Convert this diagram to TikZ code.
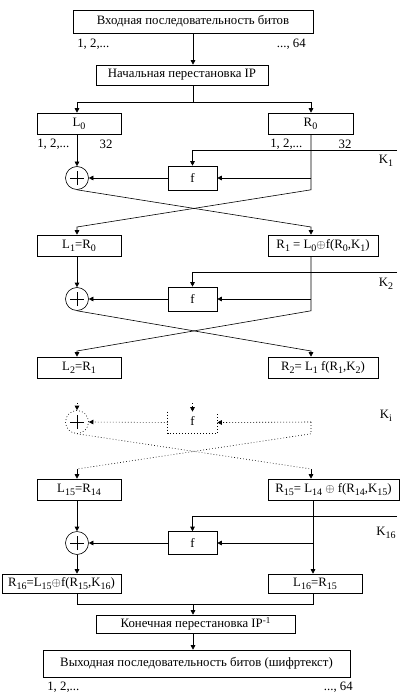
\documentclass[tikz,border=0pt]{standalone}
\usepackage{fontspec}
\setmainfont{Liberation Serif}
\usetikzlibrary{arrows.meta}
\newcommand{\sbx}[1]{\raisebox{-2.8pt}{\fontsize{10}{10}\selectfont #1}}
\newcommand{\spx}[1]{\raisebox{4.5pt}{\fontsize{9}{9}\selectfont #1}}
\begin{document}
\begin{tikzpicture}[x=1pt,y=-1pt, line width=0.6pt,
  font=\fontsize{12.8}{14}\selectfont,
  box/.style={draw, inner sep=0pt},
  arr/.style={-{Triangle[length=4.5pt,width=4.5pt]}},
  dots/.style={dash pattern=on 0.8pt off 2.2pt},
  xor/.style={draw, circle, minimum size=23pt, inner sep=0pt,
    path picture={\draw[solid] (path picture bounding box.center) ++(-7pt,0) -- ++(14pt,0);
                  \draw[solid] (path picture bounding box.center) ++(0,-7pt) -- ++(0,14pt);}},
  lbl/.style={inner sep=0pt}]
\useasboundingbox (0,0) rectangle (402,695);
% column coordinates
\coordinate (cl) at (77,0);
\coordinate (cr) at (311,0);
\coordinate (cr2) at (313,0);
\coordinate (cm) at (193,0);

% top
\node[box, minimum width=240pt, minimum height=23pt] (in) at (193,21.5) {Входная последовательность битов};
\node[lbl, anchor=west] (n1) at (77,44) {1, 2,...};
\node[lbl, anchor=east] (n2) at (306,44) {..., 64};
\node[box, minimum width=172pt, minimum height=20pt] (ip) at (182,75) {Начальная перестановка IP};
\draw[arr] (in.south) -- (in.south |- ip.north);
\coordinate (sp) at (193,102);
\draw (ip.south -| sp) -- (sp);

% round 1
\node[box, minimum width=84pt, minimum height=21pt] (L0) at (79,123.5) {L\sbx{0}};
\node[box, minimum width=85pt, minimum height=21pt] (R0) at (310.5,123.5) {R\sbx{0}};
\draw[arr] (sp) -| (L0.north -| cl);
\draw[arr] (sp) -| (R0.north -| cr);
\node[lbl, anchor=west] (a1) at (37,144) {1, 2,...};
\node[lbl] (a2) at (106,144) {32};
\node[lbl, anchor=west] (b1) at (270,144) {1, 2,...};
\node[lbl] (b2) at (345,144) {32};
\node[xor] (c1) at (77,178) {};
\node[box, minimum width=49pt, minimum height=24pt] (f1) at (192.5,178) {f};
\coordinate (k1) at (397,150);
\node[lbl] (K1) at (386,161) {K\sbx{1}};
\draw[arr] (L0.south -| cl) -- (c1.north);
\draw[arr] (k1) -| (f1.north);
\draw[arr] (c1 -| cr) -- (f1.east);
\draw[arr] (f1.west) -- (c1.east);
\node[box, minimum width=84pt, minimum height=21pt] (L1) at (79,245.5) {L\sbx{1}=R\sbx{0}};
\node[box, minimum width=110pt, minimum height=21pt] (R1) at (323,245.5) {R\sbx{1} = L\sbx{0}$\oplus$f(R\sbx{0},K\sbx{1})};
\coordinate (x1l) at (77,227);
\coordinate (x1r) at (311,227);
\draw[arr] (c1.south) -- (x1r) -- (R1.north -| x1r);
\draw[arr] (R0.south -| cr) -- (cr |- c1.south) -- (x1l) -- (L1.north -| x1l);

% round 2
\node[xor] (c2) at (77,299) {};
\node[box, minimum width=49pt, minimum height=24pt] (f2) at (192.5,299) {f};
\coordinate (k2) at (397,272);
\node[lbl] (K2) at (386,284) {K\sbx{2}};
\draw[arr] (L1.south -| cl) -- (c2.north);
\draw[arr] (k2) -| (f2.north);
\draw[arr] (c2 -| cr) -- (f2.east);
\draw[arr] (f2.west) -- (c2.east);
\node[box, minimum width=84pt, minimum height=21pt] (L2) at (79,367.5) {L\sbx{2}=R\sbx{1}};
\node[box, minimum width=110pt, minimum height=21pt] (R2) at (323,367.5) {R\sbx{2}= L\sbx{1} f(R\sbx{1},K\sbx{2})};
\coordinate (x2l) at (77,351);
\coordinate (x2r) at (311,351);
\draw[arr] (c2.south) -- (x2r) -- (R2.north -| x2r);
\draw[arr] (R1.south -| cr) -- (cr |- c2.south) -- (x2l) -- (L2.north -| x2l);

% dotted round
\node[xor, dots] (ci) at (77,422) {};
\node[inner sep=0pt, minimum width=49pt, minimum height=21pt] (fi) at (192.5,422.5) {\raisebox{4pt}{f}};
\node[lbl] (Ki) at (386,416) {K\sbx{i}};
\coordinate (ti) at (77,403);
\coordinate (tf) at (192.5,403);
\draw[arr, dots] (ti) -- (ci.north);
\draw[arr, dots] (tf) -- (fi.north);
\draw[dots] (fi.north west) -- (fi.south west) -- (fi.south east) -- (fi.north east);
\coordinate (ri) at (311,422);
\draw[arr, dots] (ri) -- (fi.east);
\draw[arr, dots] (fi.west) -- (ci.east);
\node[box, minimum width=84pt, minimum height=21pt] (L15) at (79,489.5) {L\sbx{15}=R\sbx{14}};
\node[box, minimum width=131pt, minimum height=21pt] (R15) at (333.5,489.5) {R\sbx{15}= L\sbx{14} $\oplus$ f(R\sbx{14},K\sbx{15})};
\coordinate (xil) at (77,469);
\coordinate (xir) at (311,469);
\draw[dots] (ri) -- (cr |- ci.south) -- (xil);
\draw[arr] (xil) -- (L15.north -| xil);
\draw[dots] (ci.south) -- (xir);
\draw[arr] (xir) -- (R15.north -| xir);

% round 16
\node[xor] (c16) at (77,543) {};
\node[box, minimum width=49pt, minimum height=23pt] (f16) at (192.5,543) {f};
\coordinate (k16) at (397,516);
\node[lbl] (K16) at (386,533) {K\sbx{16}};
\draw[arr] (L15.south -| cl) -- (c16.north);
\draw[arr] (k16) -| (f16.north);
\draw[arr] (c16 -| cr2) -- (f16.east);
\draw[arr] (f16.west) -- (c16.east);
\node[box, minimum width=119pt, minimum height=19pt] (R16) at (61.5,583.5) {R\sbx{16}=L\sbx{15}$\oplus$f(R\sbx{15},K\sbx{16})};
\node[box, minimum width=94pt, minimum height=19pt] (L16) at (315,583.5) {L\sbx{16}=R\sbx{15}};
\draw[arr] (c16.south) -- (R16.north -| cl);
\draw[arr] (R15.south -| cr2) -- (L16.north -| cr2);

% final
\coordinate (m) at (193,604);
\node[box, minimum width=199pt, minimum height=18pt] (fip) at (195.5,624) {Конечная перестановка IP\spx{-1}};
\node[box, minimum width=307pt, minimum height=27pt] (out) at (196.5,663.5) {Выходная последовательность битов (шифртекст)};
\draw (R16.south -| cl) |- (m);
\draw (L16.south -| cr2) |- (m);
\draw[arr] (m) -- (m |- fip.north);
\draw[arr] (m |- fip.south) -- (m |- out.north);
\node[lbl, anchor=west] (o1) at (47,687) {1, 2,...};
\node[lbl, anchor=east] (o2) at (353,687) {..., 64};
\end{tikzpicture}
\end{document}
